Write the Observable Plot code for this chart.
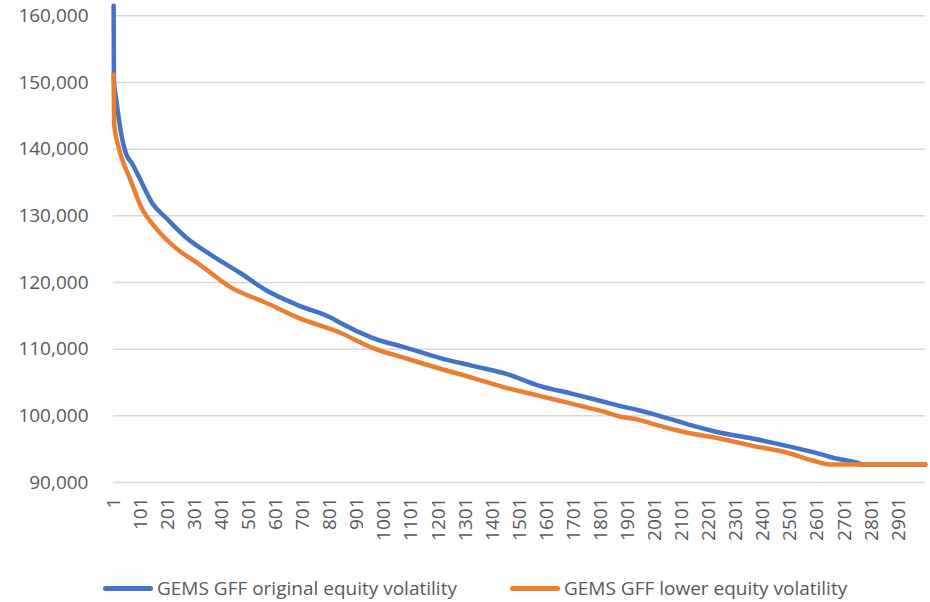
<!DOCTYPE html>
<html><head><meta charset="utf-8">
<script src="https://cdn.jsdelivr.net/npm/d3@7"></script>
<script src="https://cdn.jsdelivr.net/npm/@observablehq/plot@0.6"></script>
<style>
body{margin:0;background:#fff;font-family:"Open Sans",sans-serif;}
#chart{position:relative;width:930px;height:602px;overflow:hidden}
.leg{position:absolute;top:575px;height:26px;display:flex;align-items:center;font-size:19px;color:#595959;white-space:nowrap}
.sw{width:50px;height:5px;border-radius:3px;margin-right:4px}
</style></head><body>
<div id="chart"></div>
<script>
// Series 1: GEMS GFF original equity volatility (index, value)
const blueIdx = [1,2,11,29,47,70,96,145,197,270,366,466,566,688,810,836,957,1083,1205,1327,1452,1574,1696,1822,1870,1944,1992,2117,2239,2361,2487,2609,2671,2745,2770,3000];
const blueVal = [161500,150300,147300,142300,139300,137800,135700,131800,129600,126700,124000,121500,118800,116500,114600,114000,111700,110200,108700,107500,106300,104500,103300,102000,101500,100800,100300,98800,97500,96600,95500,94300,93600,93000,92700,92700];
// Series 2: GEMS GFF lower equity volatility
const orangeIdx = [1,3,16,34,60,104,156,230,315,437,562,684,836,957,1083,1205,1327,1452,1574,1696,1822,1870,1944,1992,2117,2239,2361,2487,2583,2646,3000];
const orangeVal = [151200,143800,140800,138300,135700,131200,128200,125200,122800,119200,117000,114700,112500,110200,108600,107100,105700,104200,103000,101800,100500,99900,99400,98800,97500,96600,95500,94500,93300,92700,92700];
const seriesNames = ["GEMS GFF original equity volatility","GEMS GFF lower equity volatility"];
const seriesColors = ["#4472C4","#ED7D31"];
const xTicks = d3.range(1, 3000, 100); // 1, 101, ..., 2901
const yTicks = [90000,100000,110000,120000,130000,140000,150000,160000];

const blueData = blueIdx.map((i,k)=>({i, v: blueVal[k]}));
const orangeData = orangeIdx.map((i,k)=>({i, v: orangeVal[k]}));

const plot = Plot.plot({
  width: 930, height: 560,
  marginLeft: 113, marginRight: 5, marginTop: 2, marginBottom: 78,
  x: {domain: [0.5, 3000.5]},
  y: {domain: [90000, 162000]},
  style: {fontFamily: "'Open Sans', sans-serif", fontSize: "19px", color: "#595959", background: "white", overflow: "visible"},
  marks: [
    Plot.ruleY(yTicks, {stroke: "#d9d9d9", strokeWidth: 1.5}),
    Plot.axisY({ticks: yTicks, tickSize: 0, tickPadding: 25, tickFormat: d3.format(","), label: null, fill: "#595959"}),
    Plot.axisX({ticks: xTicks, tickSize: 0, tickRotate: -90, tickPadding: 15, label: null, tickFormat: d => String(d), fill: "#595959"}),
    Plot.line(blueData, {x: "i", y: "v", stroke: seriesColors[0], strokeWidth: 4.5, strokeLinejoin: "round", curve: "monotone-x"}),
    Plot.line(orangeData, {x: "i", y: "v", stroke: seriesColors[1], strokeWidth: 4.5, strokeLinejoin: "round", curve: "monotone-x"})
  ]
});
const chart = document.getElementById("chart");
chart.appendChild(plot);
const lefts = [103, 510];
seriesNames.forEach((name, k) => {
  const d = document.createElement("div");
  d.className = "leg";
  d.style.left = lefts[k] + "px";
  d.innerHTML = `<span class="sw" style="background:${seriesColors[k]}"></span><span>${name}</span>`;
  chart.appendChild(d);
});
</script>
</body></html>
